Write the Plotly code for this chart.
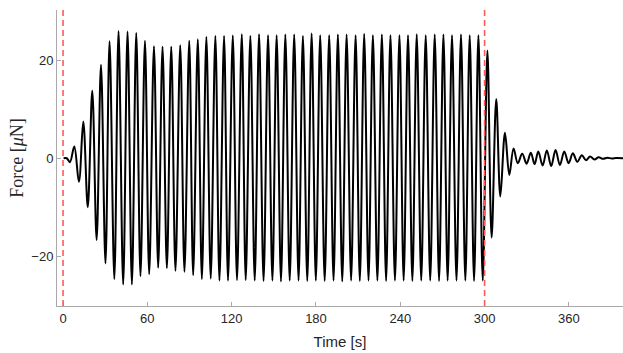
import plotly.graph_objects as go

# Extrema of the force signal (time in s, force in uN)
start_t = [0.4, 2.6]
start_v = [0.0, 0.0]

trough_t = [4.9, 11.3, 17.6, 23.9, 30.2, 36.5, 42.8, 49.0, 55.1, 61.3,
            67.7, 73.9, 80.0, 86.4, 92.6, 98.8, 105.1, 111.3, 117.4, 123.8,
            130.0, 136.4, 142.7, 149.0, 155.1, 161.3, 167.6, 173.8, 179.9, 186.2,
            192.5, 198.7, 205.0, 211.2, 217.4, 223.7, 229.9, 236.2, 242.4, 248.6,
            254.9, 261.3, 267.6, 273.7, 280.0, 286.3, 292.5, 298.7]
trough_v = [-0.8, -4.8, -10.0, -16.7, -21.5, -24.7, -25.8, -25.8, -24.1, -23.7,
            -22.4, -22.5, -23.0, -23.2, -23.9, -24.7, -24.6, -25.0, -25.0, -24.9,
            -24.9, -25.0, -25.1, -25.0, -25.2, -25.0, -25.0, -25.1, -25.0, -25.1,
            -25.0, -25.2, -25.0, -25.1, -25.0, -25.0, -25.1, -25.0, -25.0, -25.1,
            -25.0, -25.0, -25.1, -25.0, -25.0, -25.0, -25.1, -25.0]

peak_t = [8.0, 14.4, 20.8, 27.0, 33.1, 39.5, 45.9, 52.1, 58.3, 64.7,
          70.8, 77.0, 83.4, 89.8, 95.9, 102.0, 108.4, 114.6, 120.8, 127.2,
          133.3, 139.5, 145.9, 152.0, 158.2, 164.5, 170.7, 176.9, 183.0, 189.4,
          195.6, 201.8, 208.2, 214.3, 220.5, 226.9, 233.0, 239.4, 245.5, 251.7,
          258.1, 264.5, 270.7, 276.8, 283.2, 289.4, 295.6, 302.0]
peak_v = [2.4, 7.5, 13.8, 19.1, 23.9, 26.0, 25.9, 25.6, 24.0, 22.9,
          22.8, 22.8, 23.1, 24.0, 24.3, 24.8, 25.0, 25.0, 25.1, 25.35,
          25.0, 25.35, 25.15, 25.15, 25.3, 25.3, 25.0, 25.5, 25.15, 25.15,
          25.3, 25.3, 25.15, 25.4, 25.15, 25.3, 25.15, 25.15, 25.15, 25.35,
          25.15, 25.3, 25.3, 25.15, 25.3, 25.15, 25.15, 22.0]

# Free decay after the drive stops
decay_t = [305.0, 308.3, 311.2, 314.5, 317.6, 320.6, 323.6, 326.8, 329.9, 332.9,
           335.6, 338.2, 341.3, 344.3, 347.4, 350.5, 353.6, 356.7, 359.8, 362.8,
           366.0, 369.2, 372.2, 375.1, 378.2, 381.2, 384.3, 387.4, 390.5, 393.6,
           398.5]
decay_v = [-16.2, 12.1, -7.8, 5.2, -3.4, 2.0, -1.0, 0.9, -1.1, 1.1,
           -1.2, 1.4, -1.5, 1.6, -1.6, 1.7, -1.4, 1.4, -1.0, 1.0,
           -0.7, 0.6, -0.4, 0.35, -0.25, 0.2, -0.12, 0.1, -0.05, 0.03,
           0.0]

event_times = [0, 300]
x_ticks = [0, 60, 120, 180, 240, 300, 360]
y_ticks = [-20, 0, 20]

# assemble the signal (alternating trough / peak)
t = list(start_t)
v = list(start_v)
for a, b, c, d in zip(trough_t, trough_v, peak_t, peak_v):
    t += [a, c]
    v += [b, d]
t += decay_t
v += decay_v

fig = go.Figure()
fig.add_trace(go.Scatter(x=t, y=v, mode="lines",
                         line=dict(color="black", width=2, shape="spline", smoothing=1.0),
                         showlegend=False, hoverinfo="skip"))
for et in event_times:
    fig.add_vline(x=et, line=dict(color="#ff5a5a", width=1.6, dash="6px,4px"))

axis_gray = "#a8a8a8"
tick_font = dict(family="Liberation Sans, Arial, sans-serif", size=13, color="#262626")
fig.update_layout(
    width=623, height=353,
    margin=dict(l=57, r=0, t=10, b=47),
    paper_bgcolor="white", plot_bgcolor="white",
    xaxis=dict(range=[-4.3, 398.5], tickvals=x_ticks, ticks="inside", ticklen=4,
               tickcolor=axis_gray, showline=True, linecolor=axis_gray, linewidth=1,
               showgrid=False, zeroline=False, tickfont=tick_font,
               title=dict(text="Time [s]", font=dict(family="Liberation Sans, Arial, sans-serif",
                                                      size=15, color="#262626"), standoff=11)),
    yaxis=dict(range=[-30.2, 30.3], tickvals=y_ticks, ticks="inside", ticklen=4,
               tickcolor=axis_gray, showline=True, linecolor=axis_gray, linewidth=1,
               showgrid=False, zeroline=False, tickfont=tick_font,
               title=dict(text="Force [<i>μ</i>N]", font=dict(family="Liberation Serif, serif",
                                                          size=18, color="#262626"), standoff=3)),
)

fig.write_html("out.html")
